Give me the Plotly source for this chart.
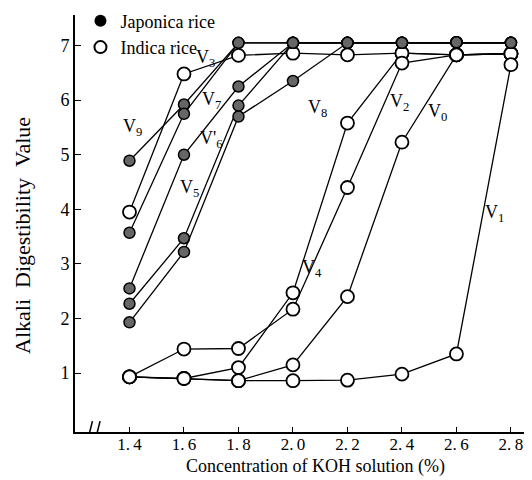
import plotly.graph_objects as go

x_conc = [1.4, 1.6, 1.8, 2.0, 2.2, 2.4, 2.6, 2.8]
x_ticks = ["1.\u20094", "1.\u20096", "1.\u20098", "2.\u20090", "2.\u20092", "2.\u20094", "2.\u20096", "2.\u20098"]
y_ticks = [1, 2, 3, 4, 5, 6, 7]

# Japonica rice (filled markers)
V9 = [4.89, 5.92, 7.05, 7.05, 7.05, 7.05, 7.06, 7.05]
V7 = [3.57, 5.75, 7.05, 7.05, 7.05, 7.05, 7.06, 7.05]
V6 = [2.55, 5.00, 6.25, 7.05, 7.05, 7.05, 7.06, 7.05]
V5 = [2.27, 3.47, 5.90, 7.05, 7.05, 7.05, 7.06, 7.05]
V8 = [1.93, 3.22, 5.70, 6.35, 7.05, 7.05, 7.06, 7.05]

# Indica rice (open markers)
V3 = [3.95, 6.48, 6.82, 6.86, 6.83, 6.86, 6.83, 6.85]
V4 = [0.93, 0.90, 1.10, 2.47, 5.58, 6.86, 6.83, 6.85]
V2 = [0.93, 1.44, 1.45, 2.17, 4.40, 6.68, 6.83, 6.85]
V0 = [0.93, 0.90, 0.86, 1.15, 2.40, 5.23, 6.83, 6.85]
V1 = [0.93, 0.90, 0.86, 0.86, 0.87, 0.98, 1.35, 6.65]

japonica = [V9, V7, V6, V5, V8]
indica = [V3, V4, V2, V0, V1]

labels = ["V<sub>9</sub>", "V<sub>3</sub>", "V<sub>7</sub>", "V'<sub>6</sub>", "V<sub>5</sub>",
          "V<sub>8</sub>", "V<sub>4</sub>", "V<sub>2</sub>", "V<sub>0</sub>", "V<sub>1</sub>"]
label_x = [1.41, 1.68, 1.70, 1.70, 1.62, 2.09, 2.07, 2.39, 2.53, 2.74]
label_y = [5.50, 6.77, 6.00, 5.27, 4.39, 5.85, 2.92, 5.96, 5.78, 3.93]

SERIF = "Liberation Serif, DejaVu Serif, serif"
NB = "\u00a0"

fig = go.Figure()
for ys in indica:
    fig.add_trace(go.Scatter(x=x_conc, y=ys, mode="lines+markers", showlegend=False,
                             line=dict(color="black", width=1.3),
                             marker=dict(symbol="circle", size=13, color="white",
                                         line=dict(color="black", width=1.8))))
for ys in japonica:
    fig.add_trace(go.Scatter(x=x_conc, y=ys, mode="lines+markers", showlegend=False,
                             line=dict(color="black", width=1.3),
                             marker=dict(symbol="circle", size=11, color="#666666",
                                         line=dict(color="black", width=1.5))))

# legend entries
fig.add_trace(go.Scatter(x=[None], y=[None], mode="markers", name="Japonica" + NB + "rice",
                         marker=dict(symbol="circle", size=12, color="black")))
fig.add_trace(go.Scatter(x=[None], y=[None], mode="markers", name="Indica" + NB + "rice",
                         marker=dict(symbol="circle", size=12, color="white",
                                     line=dict(color="black", width=2.2))))

for t, lx, ly in zip(labels, label_x, label_y):
    fig.add_annotation(x=lx, y=ly, text=t, showarrow=False,
                       font=dict(family=SERIF, size=18, color="black"))

# plot area in page pixels: left 75, right 530, top 15, bottom 432 (page has 8px body margin)
fig.add_annotation(xref="paper", yref="paper", x=(22 - 75) / 455, xanchor="center",
                   y=(432 - 236) / 417, yanchor="middle",
                   text="Alkali" + NB * 2 + "Digestibility" + NB * 2 + "Value",
                   textangle=-90, showarrow=False, font=dict(family=SERIF, size=22, color="black"))
fig.add_annotation(xref="paper", yref="paper", x=(315 - 75) / 455, xanchor="center",
                   y=-(467 - 432) / 417, yanchor="middle",
                   text="Concentration" + NB + "of" + NB + "KOH" + NB + "solution" + NB + "(%)",
                   showarrow=False, font=dict(family=SERIF, size=18, color="black"))

# axis break marks
fig.add_shape(type="rect", xref="x", yref="y", x0=1.252, x1=1.288, y0=-0.2, y1=0.04,
              fillcolor="white", line=dict(width=0), layer="above")
for xb in [1.256, 1.284]:
    fig.add_shape(type="line", xref="x", yref="y", x0=xb - 0.008, x1=xb + 0.008, y0=-0.2, y1=0.12,
                  line=dict(color="black", width=1.5), layer="above")

fig.update_layout(
    width=532, height=480,
    margin=dict(l=67, r=10, t=7, b=56, autoexpand=False),
    paper_bgcolor="white", plot_bgcolor="white",
    font=dict(family=SERIF, color="black"),
    legend=dict(x=0.012, y=1.03, xanchor="left", yanchor="top", bgcolor="rgba(0,0,0,0)",
                font=dict(family=SERIF, size=18), itemsizing="constant", tracegroupgap=0),
    xaxis=dict(range=[1.2, 2.87], tickvals=x_conc, ticktext=x_ticks, showgrid=False,
               zeroline=False, showline=True, linecolor="black", linewidth=2,
               ticks="inside", ticklen=5, tickcolor="black", tickfont=dict(size=17),
               ticklabelstandoff=-4, automargin=False),
    yaxis=dict(range=[-0.08, 7.56], tickvals=y_ticks, showgrid=False, zeroline=False,
               showline=True, linecolor="black", linewidth=2, ticks="inside", ticklen=6,
               tickcolor="black", tickfont=dict(size=18), automargin=False),
)

fig.write_html("out.html")
